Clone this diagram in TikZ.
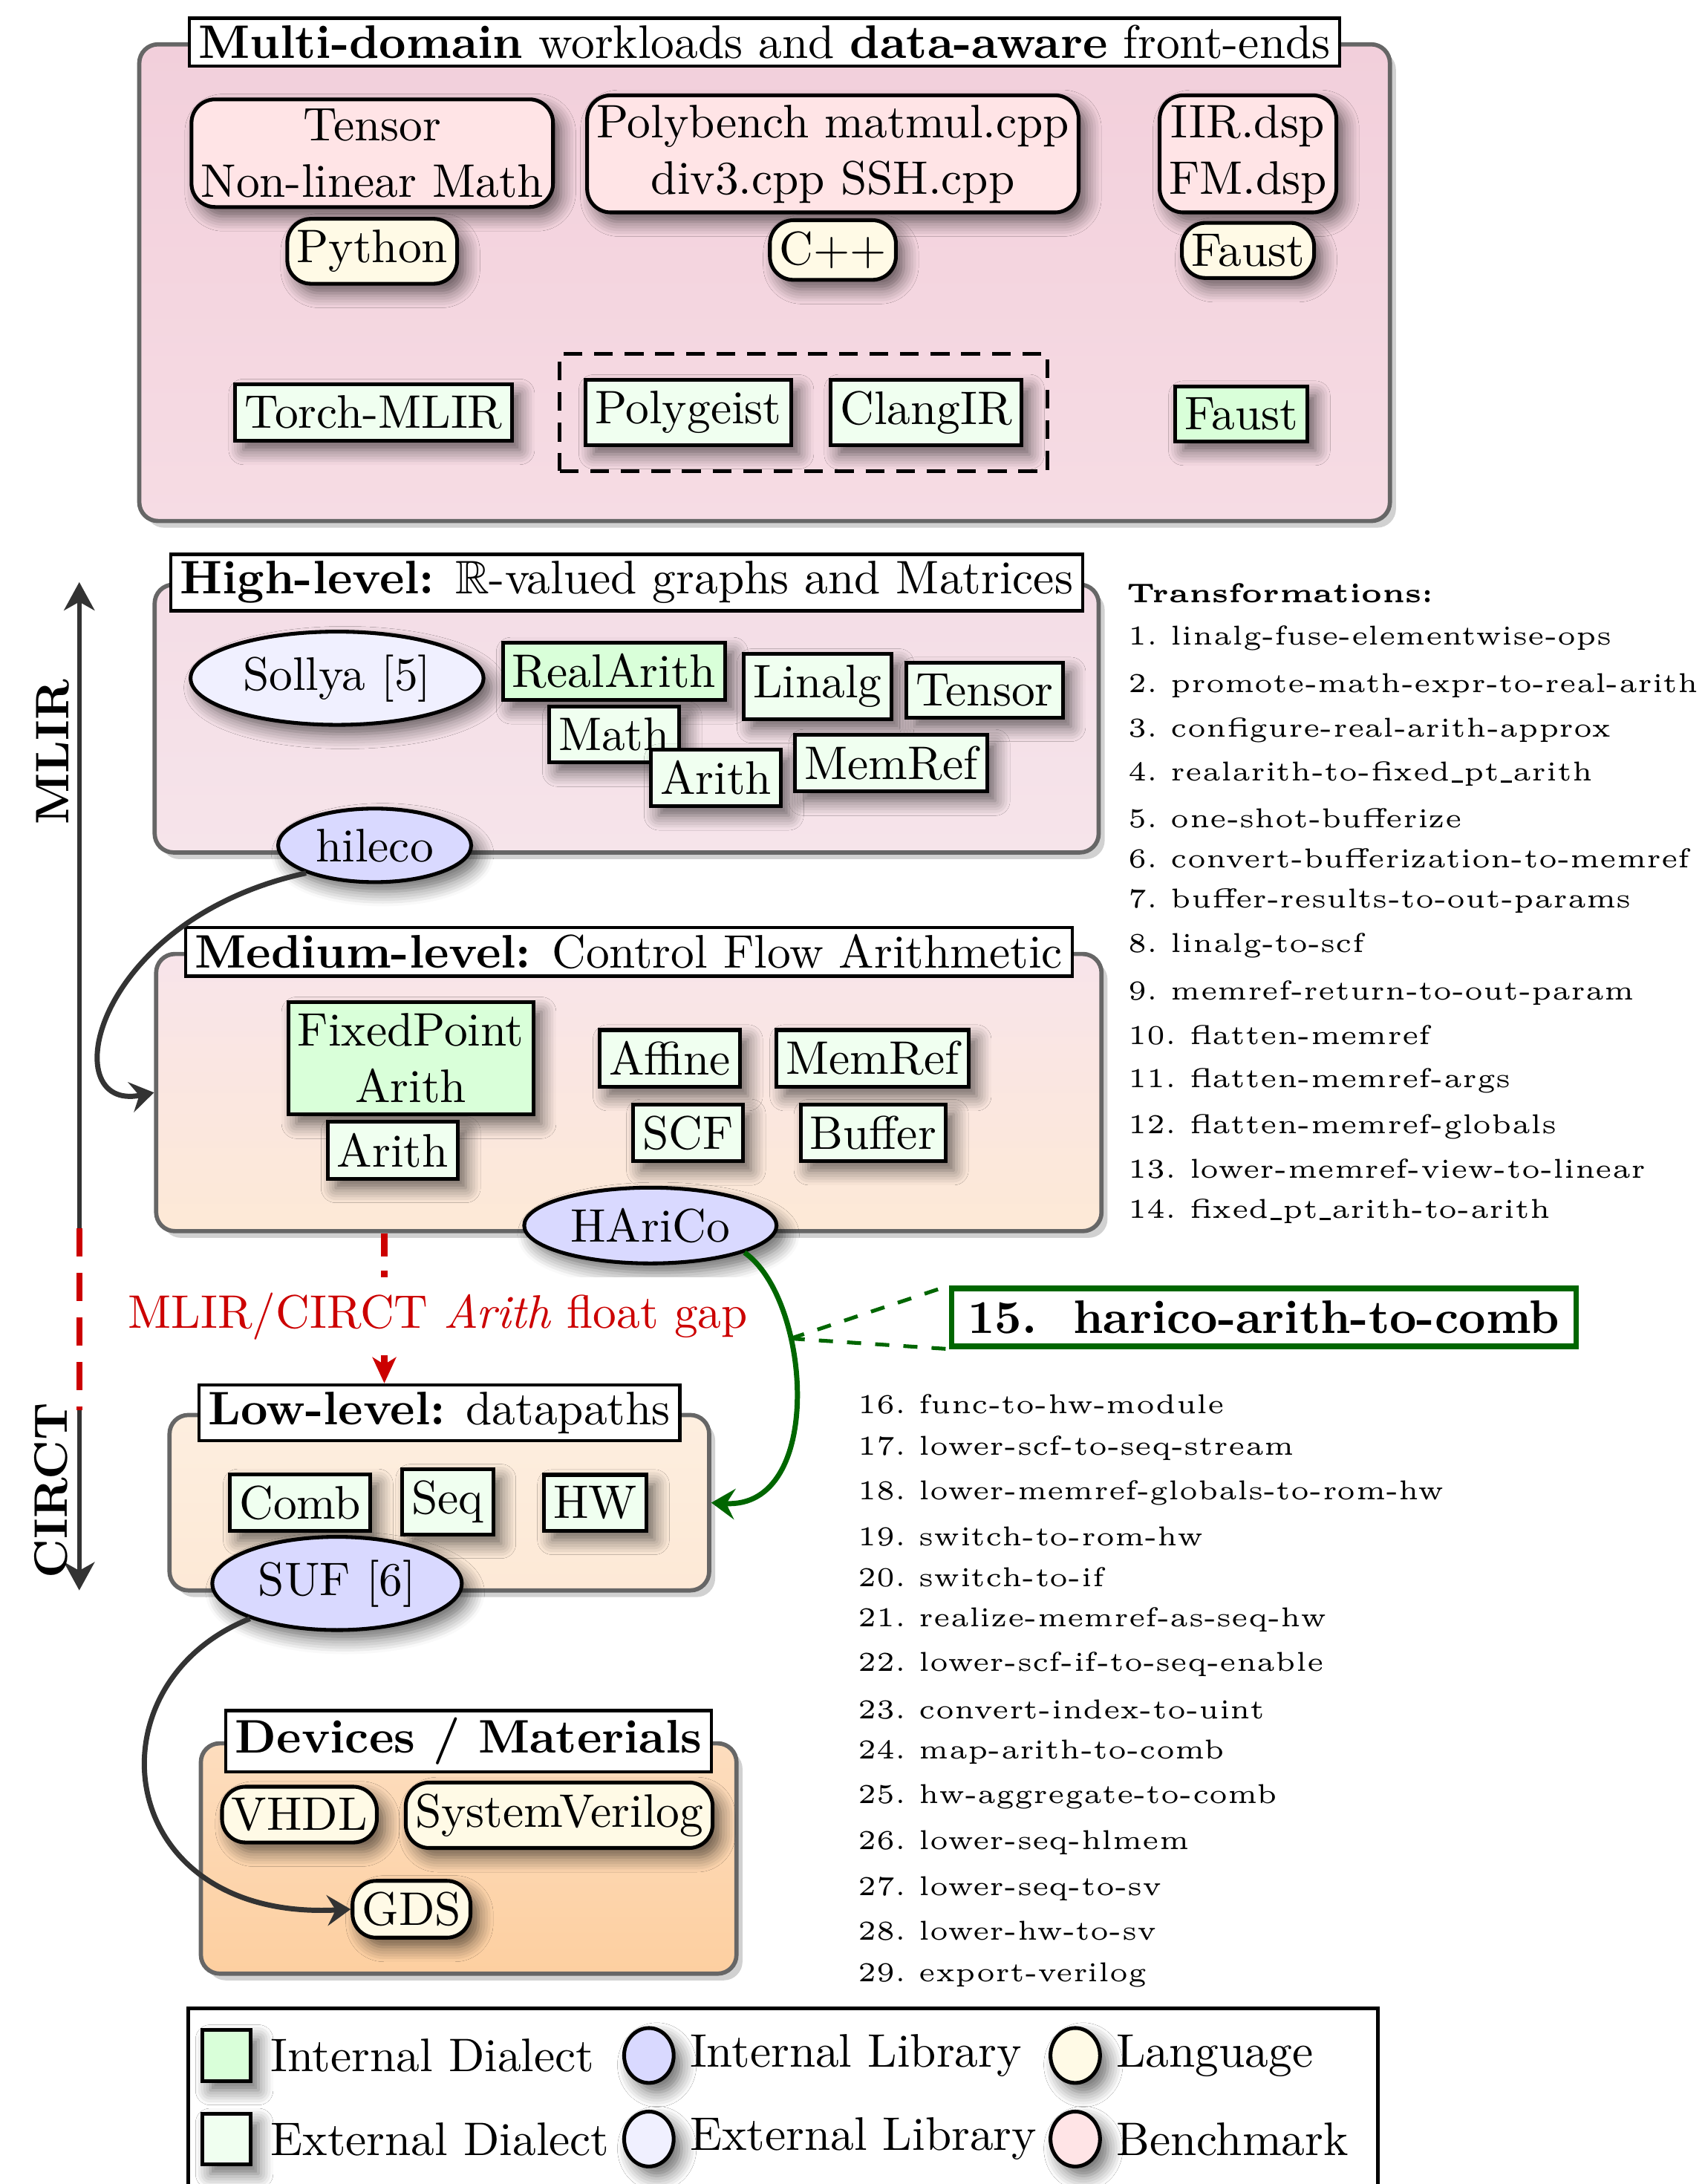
\documentclass[tikz,border=0pt]{standalone}
\usepackage{tikz}
\usetikzlibrary{shapes.geometric, arrows.meta, positioning, fit, shadows, shadows.blur}
\usepackage{amssymb}

\definecolor{colInDia}{HTML}{D9FFD9}
\definecolor{colExDia}{HTML}{F0FFF0}
\definecolor{colInLib}{HTML}{D9D9FF}
\definecolor{colExLib}{HTML}{F0F0FF}
\definecolor{colLang}{HTML}{FFFAE6}
\definecolor{colBench}{HTML}{FFE4E6}
\definecolor{colGap}{HTML}{CC0000}
\definecolor{colPass}{HTML}{006600}
\definecolor{frontTop}{HTML}{F2CFDB}
\definecolor{frontBot}{HTML}{F6DCE4}
\definecolor{highTop}{HTML}{F4DDE6}
\definecolor{highBot}{HTML}{F6E4EA}
\definecolor{medTop}{HTML}{F8E4EA}
\definecolor{medBot}{HTML}{FDE9D6}
\definecolor{lowTop}{HTML}{FDEEDF}
\definecolor{lowBot}{HTML}{FDE9D6}
\definecolor{devTop}{HTML}{FDDDBE}
\definecolor{devBot}{HTML}{FDCFA0}

% short underscore for pass names
\newcommand{\uscore}{\kern0.04em\rule[-0.1ex]{0.42em}{0.35pt}\kern0.04em}

\begin{document}
\begin{tikzpicture}[
    layer/.style={rectangle, rounded corners=4pt, draw=black!60, line width=0.9pt, drop shadow={shadow xshift=0.045cm, shadow yshift=-0.05cm, fill=black!18, opacity=1}},
    layertitle/.style={rectangle, draw, fill=white, line width=0.7pt, inner xsep=2pt, inner ysep=1.5pt},
    blob/.style={draw, line width=0.8pt, blur shadow={shadow xshift=0.6mm, shadow yshift=-0.7mm, shadow blur radius=1.1mm, shadow blur steps=6, shadow opacity=60}},
    dialect/.style={blob, rectangle, inner xsep=2pt, inner ysep=2.4pt},
    indialect/.style={dialect, fill=colInDia},
    exdialect/.style={dialect, fill=colExDia},
    lib/.style={blob, ellipse, inner sep=2pt},
    inlib/.style={lib, fill=colInLib},
    exlib/.style={lib, fill=colExLib},
    lang/.style={blob, rectangle, rounded corners=5pt, inner xsep=2pt, inner ysep=2.4pt, fill=colLang},
    bench/.style={blob, rectangle, rounded corners=5pt, inner sep=2pt, fill=colBench, align=center},
    arrow/.style={line width=1.1pt, draw=black!80, -{Stealth[length=5pt, width=6.5pt, inset=1.8pt]}},
    gaparrow/.style={line width=1.4pt, draw=colGap, dash pattern=on 5pt off 3pt, -{Stealth[length=5.5pt, width=5pt, inset=1.5pt]}},
    passarrow/.style={line width=1.1pt, draw=colPass, -{Stealth[length=5pt, width=6.5pt, inset=1.8pt]}},
    axis/.style={line width=1pt, draw=black!80, -{Stealth[length=6pt, width=6.5pt, inset=1.8pt]}},
    pass/.style={anchor=base west, font=\tiny, scale=1.16, transform shape, inner sep=0pt}
]

\useasboundingbox (0,0) rectangle (12.73,-16.31);

% Layers
\node[layer, top color=frontTop, bottom color=frontBot, minimum width=9.34cm, minimum height=3.56cm] (front) at (5.71,-2.111) {};
\node[layer, top color=highTop, bottom color=highBot, minimum width=7.05cm, minimum height=2.0cm] (high) at (4.68,-5.366) {};
\node[layer, top color=medTop, bottom color=medBot, minimum width=7.06cm, minimum height=2.07cm] (medium) at (4.696,-8.159) {};
\node[layer, top color=lowTop, bottom color=lowBot, minimum width=4.03cm, minimum height=1.31cm] (low) at (3.281,-11.222) {};
\node[layer, top color=devTop, bottom color=devBot, minimum width=4.0cm, minimum height=1.72cm] (devices) at (3.5,-13.879) {};

\node[layertitle] (fronttitle) at (front.north) {\textbf{Multi-domain} workloads and \textbf{data-aware} front-ends};
\node[layertitle] (hightitle) at (high.north) {\textbf{High-level:} $\mathbb{R}$-valued graphs and Matrices};
\node[layertitle] (medtitle) at (medium.north) {\textbf{Medium-level:} Control Flow Arithmetic};
\node[layertitle] (lowtitle) at (low.north) {\textbf{Low-level:} datapaths};
\node[layertitle] (devtitle) at (devices.north) {\textbf{Devices / Materials}};

% Front-ends
\node[bench] (tensorbench) at (2.78,-1.144) {Tensor\\Non-linear Math};
\node[bench] (polybench) at (6.22,-1.149) {Polybench matmul.cpp\\div3.cpp SSH.cpp};
\node[bench] (faustbench) at (9.32,-1.149) {IIR.dsp\\FM.dsp};
\node[lang, below=0.06cm of tensorbench] (python) {Python};
\node[lang, below=0.03cm of polybench] (cpp) {C++};
\node[lang, below=0.05cm of faustbench] (faustlang) {Faust};
\node[exdialect] (torch) at (2.79,-3.08) {Torch-MLIR};
\node[exdialect] (polygeist) at (5.14,-3.08) {Polygeist};
\node[exdialect, right=0.27cm of polygeist] (clangir) {ClangIR};
\node[indialect] (faust) at (9.27,-3.09) {Faust};
\node[draw, line width=0.8pt, dash pattern=on 4pt off 2.5pt, fit=(polygeist)(clangir), inner sep=0.18cm] (cxxgroup) {};

% High-level
\node[exlib] (sollya) at (2.517,-5.065) {Sollya [5]};
\node[indialect] (realarith) at (4.586,-5.013) {RealArith};
\node[exdialect] (linalg) at (6.105,-5.127) {Linalg};
\node[exdialect] (tensor) at (7.353,-5.153) {Tensor};
\node[exdialect] (math) at (4.586,-5.486) {Math};
\node[exdialect] (arith) at (5.346,-5.808) {Arith};
\node[exdialect] (memref) at (6.656,-5.699) {MemRef};
\node[inlib] (hileco) at (2.798,-6.313) {hileco};

% Medium-level
\node[indialect, align=center] (fixedpt) at (3.068,-7.904) {FixedPoint\\Arith};
\node[exdialect] (arithmed) at (2.933,-8.59) {Arith};
\node[exdialect] (affine) at (5.002,-7.904) {Affine};
\node[exdialect] (memrefmed) at (6.516,-7.904) {MemRef};
\node[exdialect] (scf) at (5.138,-8.46) {SCF};
\node[exdialect] (buffer) at (6.521,-8.46) {Buffer};
\node[inlib] (harico) at (4.857,-9.152) {HAriCo};

% Low-level
\node[exdialect] (comb) at (2.241,-11.222) {Comb};
\node[exdialect] (seq) at (3.344,-11.216) {Seq};
\node[exdialect] (hw) at (4.446,-11.222) {HW};
\node[inlib] (suf) at (2.517,-11.825) {SUF [6]};

% Devices
\node[lang] (vhdl) at (2.236,-13.551) {VHDL};
\node[lang] (sysverilog) at (4.176,-13.556) {SystemVerilog};
\node[lang] (gds) at (3.073,-14.258) {GDS};

% MLIR / CIRCT axis
\coordinate (mlirtop) at (0.592,-4.347);
\coordinate (gapstart) at (0.592,-9.17);
\coordinate (gapend) at (0.592,-10.53);
\coordinate (circtbot) at (0.592,-11.877);
\draw[axis] (gapstart) -- (mlirtop);
\draw[line width=1.3pt, colGap, dash pattern=on 6pt off 3.5pt] (gapstart) -- (gapend);
\draw[axis] (gapend) -- (circtbot);
\node[rotate=90, font=\bfseries] (mlirlabel) at (0.395,-5.616) {MLIR};
\node[rotate=90, font=\bfseries] (circtlabel) at (0.38,-11.13) {CIRCT};

% Connections
\coordinate (gapx) at (2.87,-9.5);
\draw[arrow] (hileco.202) .. controls +(-1.6,-0.35) and +(-0.75,-0.15) .. (medium.west);
\draw[gaparrow] (medium.south -| gapx) -- (lowtitle.north -| gapx);
\node[text=colGap, fill=white] (gaplabel) at (3.27,-9.83) {MLIR/CIRCT \textit{Arith} float gap};
\draw[passarrow] (harico.-16) .. controls +(0.5,-0.35) and +(0.85,-0.05) .. (low.east) coordinate[pos=0.33] (passtap);
\draw[arrow] (suf.202) .. controls +(-1.23,-0.49) and +(-1.78,-0.09) .. (gds.west);

% Transformations
\node[pass, font=\tiny\bfseries] (passhead) at (8.41,-4.503) {Transformations:};
\node[pass] (p1) at (8.42,-4.815) {1.~linalg-fuse-elementwise-ops};
\node[pass] (p2) at (8.42,-5.169) {2.~promote-math-expr-to-real-arith};
\node[pass] (p3) at (8.42,-5.502) {3.~configure-real-arith-approx};
\node[pass] (p4) at (8.42,-5.834) {4.~realarith-to-fixed\uscore pt\uscore arith};
\node[pass] (p5) at (8.42,-6.178) {5.~one-shot-bufferize};
\node[pass] (p6) at (8.42,-6.479) {6.~convert-bufferization-to-memref};
\node[pass] (p7) at (8.42,-6.781) {7.~buffer-results-to-out-params};
\node[pass] (p8) at (8.42,-7.114) {8.~linalg-to-scf};
\node[pass] (p9) at (8.42,-7.467) {9.~memref-return-to-out-param};
\node[pass] (p10) at (8.42,-7.8) {10.~flatten-memref};
\node[pass] (p11) at (8.42,-8.122) {11.~flatten-memref-args};
\node[pass] (p12) at (8.42,-8.466) {12.~flatten-memref-globals};
\node[pass] (p13) at (8.42,-8.798) {13.~lower-memref-view-to-linear};
\node[pass] (p14) at (8.42,-9.1) {14.~fixed\uscore pt\uscore arith-to-arith};
\node[draw=colPass, line width=1.2pt, fill=white, font=\bfseries, inner xsep=3.5pt, inner ysep=2.6pt] (p15) at (9.438,-9.838) {15.~~harico-arith-to-comb};
\draw[colPass, line width=0.8pt, dashed] (passtap) -- (p15.north west);
\draw[colPass, line width=0.8pt, dashed] (passtap) -- (p15.south west);
\node[pass] (p16) at (6.4,-10.556) {16.~func-to-hw-module};
\node[pass] (p17) at (6.4,-10.868) {17.~lower-scf-to-seq-stream};
\node[pass] (p18) at (6.4,-11.201) {18.~lower-memref-globals-to-rom-hw};
\node[pass] (p19) at (6.4,-11.544) {19.~switch-to-rom-hw};
\node[pass] (p20) at (6.4,-11.846) {20.~switch-to-if};
\node[pass] (p21) at (6.4,-12.147) {21.~realize-memref-as-seq-hw};
\node[pass] (p22) at (6.4,-12.48) {22.~lower-scf-if-to-seq-enable};
\node[pass] (p23) at (6.4,-12.834) {23.~convert-index-to-uint};
\node[pass] (p24) at (6.4,-13.135) {24.~map-arith-to-comb};
\node[pass] (p25) at (6.4,-13.468) {25.~hw-aggregate-to-comb};
\node[pass] (p26) at (6.4,-13.811) {26.~lower-seq-hlmem};
\node[pass] (p27) at (6.4,-14.154) {27.~lower-seq-to-sv};
\node[pass] (p28) at (6.4,-14.487) {28.~lower-hw-to-sv};
\node[pass] (p29) at (6.4,-14.799) {29.~export-verilog};

% Legend
\node[draw, line width=0.8pt, fill=white, anchor=north west, minimum width=8.88cm, minimum height=1.8cm] (legend) at (1.394,-14.986) {};
\node[indialect, minimum width=0.36cm, minimum height=0.38cm, inner sep=0pt] (key1) at (1.69,-15.35) {};
\node[inlib, minimum width=0.37cm, minimum height=0.41cm, inner sep=0pt] (key2) at (4.846,-15.35) {};
\node[lang, ellipse, minimum width=0.37cm, minimum height=0.41cm, inner sep=0pt] (key3) at (8.03,-15.35) {};
\node[exdialect, minimum width=0.36cm, minimum height=0.38cm, inner sep=0pt] (key4) at (1.69,-15.974) {};
\node[exlib, minimum width=0.37cm, minimum height=0.41cm, inner sep=0pt] (key5) at (4.846,-15.974) {};
\node[bench, ellipse, minimum width=0.37cm, minimum height=0.41cm, inner sep=0pt] (key6) at (8.03,-15.974) {};
\node[right=0.13cm of key1, inner sep=0pt] (keytext1) {Internal Dialect};
\node[right=0.1cm of key2, inner sep=0pt] (keytext2) {Internal Library};
\node[right=0.1cm of key3, inner sep=0pt] (keytext3) {Language};
\node[right=0.13cm of key4, inner sep=0pt] (keytext4) {External Dialect};
\node[right=0.1cm of key5, inner sep=0pt] (keytext5) {External Library};
\node[right=0.1cm of key6, inner sep=0pt] (keytext6) {Benchmark};

\end{tikzpicture}
\end{document}
